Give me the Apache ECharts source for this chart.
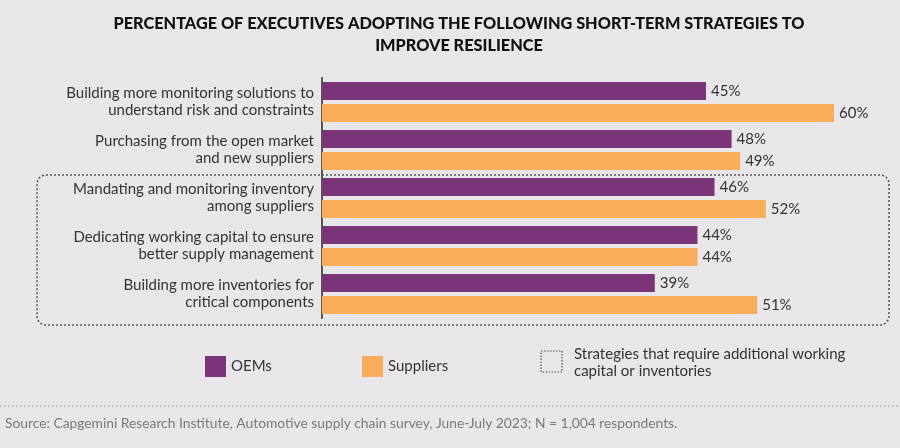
<!DOCTYPE html>
<html>
<head>
<meta charset="utf-8">
<script src="https://cdn.jsdelivr.net/npm/echarts@6/dist/echarts.min.js"></script>
<style>
html,body{margin:0;padding:0;background:#e8e6e9;}
#chart{width:900px;height:448px;}
</style>
</head>
<body>
<div id="chart"></div>
<script>
var categories = [
  "Building more monitoring solutions to\nunderstand risk and constraints",
  "Purchasing from the open market\nand new suppliers",
  "Mandating and monitoring inventory\namong suppliers",
  "Dedicating working capital to ensure\nbetter supply management",
  "Building more inventories for\ncritical components"
];
var oems = [45, 48, 46, 44, 39];
var suppliers = [60, 49, 52, 44, 51];
var seriesNames = ["OEMs", "Suppliers"];
var titleText = "PERCENTAGE OF EXECUTIVES ADOPTING THE FOLLOWING SHORT-TERM STRATEGIES TO\nIMPROVE RESILIENCE";
var boxLegendText = "Strategies that require additional working\ncapital or inventories";
var sourceText = "Source: Capgemini Research Institute, Automotive supply chain survey, June-July 2023; N = 1,004 respondents.";

var PURPLE = "#7c3479", ORANGE = "#f9ad5a", FONT = "Lato";

var chart = echarts.init(document.getElementById('chart'));
var labelCfg = {
  show: true, position: 'right', distance: 5,
  formatter: '{c}%', color: '#333', fontSize: 15, fontFamily: FONT
};
chart.setOption({
  backgroundColor: '#e8e6e9',
  animation: false,
  legend: [
    {data: [seriesNames[0]], left: 200, top: 351, itemWidth: 21, itemHeight: 21, icon: 'rect',
     textStyle: {fontFamily: FONT, fontSize: 15, color: '#333'}, selectedMode: false},
    {data: [seriesNames[1]], left: 357, top: 351, itemWidth: 21, itemHeight: 21, icon: 'rect',
     textStyle: {fontFamily: FONT, fontSize: 15, color: '#333'}, selectedMode: false}
  ],
  grid: {left: 322, top: 78, width: 512, height: 240},
  xAxis: {type: 'value', min: 0, max: 60, show: false},
  yAxis: {
    type: 'category', data: categories, inverse: true,
    axisLine: {show: true, lineStyle: {color: '#555', width: 2}},
    axisTick: {show: false},
    axisLabel: {fontFamily: FONT, fontSize: 15, color: '#333', lineHeight: 17, margin: 8, align: 'right'}
  },
  series: [
    {name: seriesNames[0], type: 'bar', data: oems, barWidth: 18, barGap: '22%',
     itemStyle: {color: PURPLE}, label: labelCfg},
    {name: seriesNames[1], type: 'bar', data: suppliers, barWidth: 18, barGap: '22%',
     itemStyle: {color: ORANGE}, label: labelCfg}
  ],
  graphic: [
    {type: 'text', x: 459, y: 13,
     style: {text: titleText, fill: '#111', font: '900 16.3px ' + FONT, lineHeight: 22, textAlign: 'center'}},
    {type: 'rect', shape: {x: 37, y: 175, width: 852, height: 150, r: 9},
     style: {fill: 'none', stroke: '#555', lineWidth: 1.5, lineDash: [2, 2]}, z: 0, silent: true},
    {type: 'rect', shape: {x: 541, y: 351, width: 21, height: 21},
     style: {fill: 'none', stroke: '#555', lineWidth: 1.2, lineDash: [1.5, 1.5]}, silent: true},
    {type: 'text', left: 574, top: 346,
     style: {text: boxLegendText, fill: '#333', font: '15px ' + FONT, lineHeight: 17}},
    {type: 'line', shape: {x1: 0, y1: 406, x2: 900, y2: 406},
     style: {stroke: '#999', lineWidth: 1, lineDash: [1.5, 2.5]}},
    {type: 'text', left: 5, top: 417,
     style: {text: sourceText, fill: '#7a7a7a', font: '13.8px ' + FONT}}
  ]
});
</script>
</body>
</html>
